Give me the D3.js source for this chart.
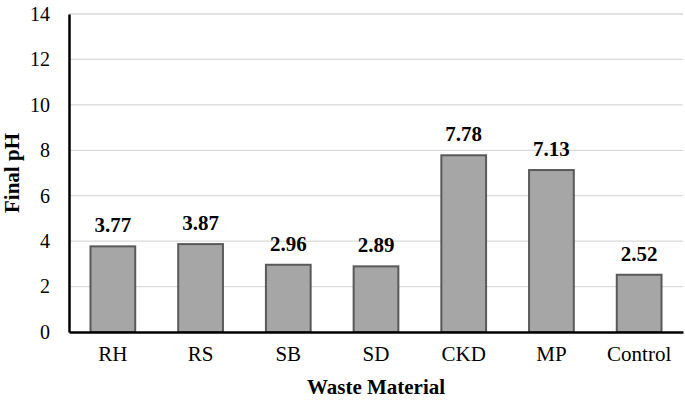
<!DOCTYPE html>
<html><head><meta charset="utf-8">
<script src="https://cdn.jsdelivr.net/npm/d3@7"></script>
<style>body{margin:0;background:#fff}svg{display:block}#chart text{font-family:'Liberation Serif' !important}</style>
</head><body>
<svg id="chart" width="685" height="402"></svg>
<script>
const categories = ["RH","RS","SB","SD","CKD","MP","Control"];
const values = [3.77,3.87,2.96,2.89,7.78,7.13,2.52];
const yTicks = [0,2,4,6,8,10,12,14];
const W=685,H=402;
const m={l:69,r:2,t:14,b:70};
const svg=d3.select("#chart");
const FF="'Liberation Serif'";
const xs=d3.scaleBand().domain(categories).range([m.l,W-m.r]).paddingInner(0.49).paddingOuter(0.245);
const ys=d3.scaleLinear().domain([0,14]).range([H-m.b,m.t]);
svg.append("g").selectAll("line").data(yTicks.filter(d=>d>0)).join("line")
 .attr("x1",m.l).attr("x2",W-m.r).attr("y1",d=>ys(d)).attr("y2",d=>ys(d))
 .attr("stroke","#d9d9d9").attr("stroke-width",1.3);
svg.append("g").selectAll("rect").data(values).join("rect")
 .attr("x",(d,i)=>xs(categories[i])).attr("width",xs.bandwidth())
 .attr("y",d=>ys(d)).attr("height",d=>ys(0)-ys(d))
 .attr("fill","#a6a6a6").attr("stroke","#595959").attr("stroke-width",2);
svg.append("g").selectAll("text").data(values).join("text")
 .attr("x",(d,i)=>xs(categories[i])+xs.bandwidth()/2).attr("y",d=>ys(d)-14)
 .attr("text-anchor","middle").style("font-family",FF).style("font-weight","bold").style("font-size","21px")
 .text(d=>d.toFixed(2));
const ya=svg.append("g").attr("transform",`translate(${m.l},0)`).call(d3.axisLeft(ys).tickValues(yTicks).tickSize(0).tickPadding(19));
ya.select(".domain").attr("stroke","#000").attr("stroke-width",2.5);
ya.selectAll("text").style("font-family",FF).style("font-size","20px").attr("fill","#000");
const xa=svg.append("g").attr("transform",`translate(0,${ys(0)})`).call(d3.axisBottom(xs).tickSize(0).tickPadding(14));
xa.select(".domain").attr("stroke","#000").attr("stroke-width",2.5);
xa.selectAll("text").style("font-family",FF).style("font-size","21px").attr("fill","#000");
svg.append("text").attr("x",(m.l+W-m.r)/2).attr("y",394).attr("text-anchor","middle")
 .style("font-family",FF).style("font-weight","bold").style("font-size","21px").text("Waste Material");
svg.append("text").attr("transform",`translate(19,${(m.t+H-m.b)/2}) rotate(-90)`).attr("text-anchor","middle")
 .style("font-family",FF).style("font-weight","bold").style("font-size","21px").text("Final pH");
</script>
</body></html>
